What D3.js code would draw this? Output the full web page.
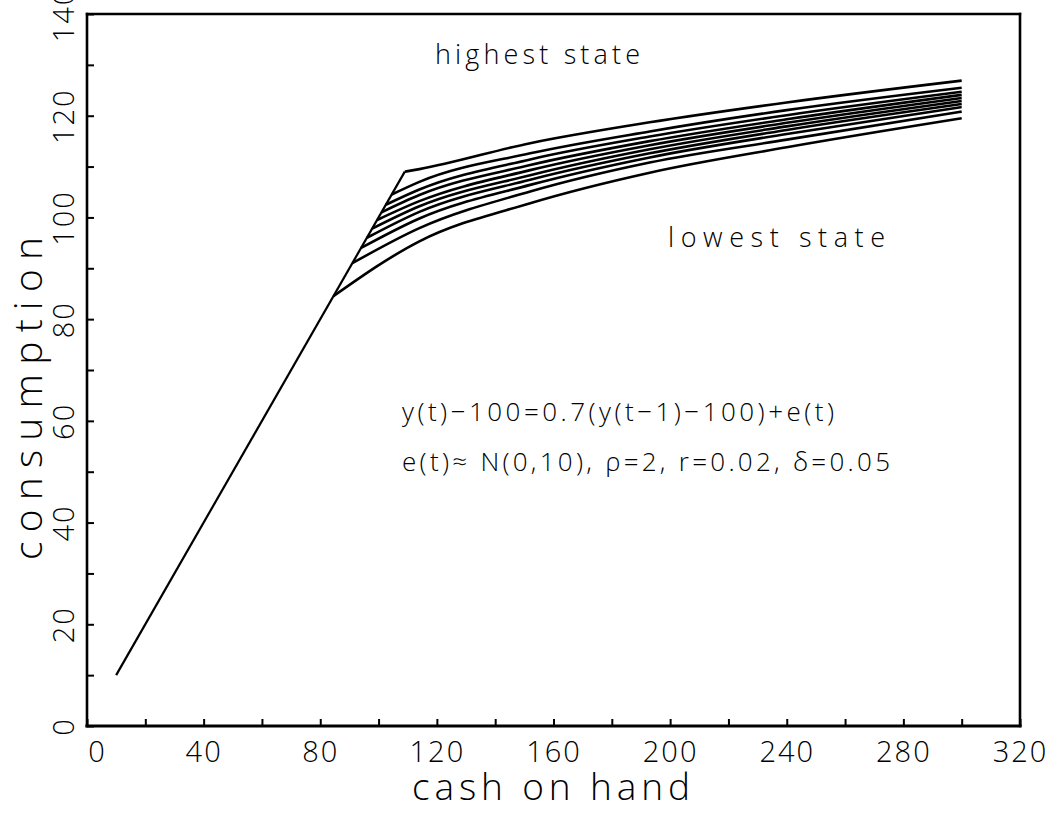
<!DOCTYPE html>
<html>
<head>
<meta charset="utf-8">
<script src="https://cdn.jsdelivr.net/npm/d3@7/dist/d3.min.js"></script>
<style>
  html, body { margin: 0; padding: 0; background: #fff; }
  svg { display: block; }
  text { font-family: "Open Sans", Lato, "DejaVu Sans", sans-serif; font-weight: 300; fill: #000; }
</style>
</head>
<body>
<svg id="chart" width="1052" height="814"></svg>
<script>
// Consumption policy functions for each income state
const cashGrid = [114, 152, 193, 240, 300];
const kinkCash = [109, 104.5, 102.5, 101, 99.5, 97.8, 96, 94, 91, 84.5];
const consumption = [
  [109.5, 114.6, 118.7, 122.6, 126.9],
  [107.0, 112.6, 116.9, 121.1, 125.5],
  [105.5, 111.4, 115.9, 120.1, 124.7],
  [104.4, 110.3, 115.0, 119.3, 124.1],
  [103.2, 109.3, 114.2, 118.6, 123.5],
  [102.2, 108.3, 113.4, 117.9, 122.9],
  [101.1, 107.4, 112.6, 117.2, 122.3],
  [ 99.8, 106.4, 111.8, 116.4, 121.7],
  [ 97.9, 105.1, 110.8, 115.3, 120.8],
  [ 95.3, 102.8, 108.8, 113.8, 119.5]
];
const minCash = 10;                 // constrained segment: consume all cash
const xTicks = d3.range(0, 321, 20);
const xLabels = [0, 40, 80, 120, 160, 200, 240, 280, 320];
const yTicks = d3.range(0, 141, 10);
const yLabels = [0, 20, 40, 60, 80, 100, 120, 140];

const svg = d3.select("#chart");
const L = 87, R = 1020, T = 14, B = 726;
const x = d3.scaleLinear().domain([0, 320]).range([L, R]);
const y = d3.scaleLinear().domain([0, 140]).range([B, T]);

// Axes with inward ticks
const xAxis = d3.axisBottom(x).tickValues(xTicks).tickSizeInner(-7).tickSizeOuter(0)
  .tickFormat(d => xLabels.includes(d) ? d : "");
const gx = svg.append("g").attr("transform", `translate(0,${B})`).call(xAxis);
gx.select(".domain").remove();
gx.selectAll(".tick line").attr("stroke", "#000").attr("stroke-width", 2);
gx.selectAll(".tick text").attr("y", 0).attr("dy", "36").attr("dx", d => d === 0 ? 10 : 0)
  .attr("font-size", 29).attr("letter-spacing", 2)
  .attr("font-family", "'Open Sans', Lato, sans-serif");

const yAxis = d3.axisLeft(y).tickValues(yTicks).tickSizeInner(-7).tickSizeOuter(0)
  .tickFormat(d => yLabels.includes(d) ? d : "");
const gy = svg.append("g").attr("transform", `translate(${L},0)`).call(yAxis);
gy.select(".domain").remove();
gy.selectAll(".tick line").attr("stroke", "#000").attr("stroke-width", 2);
gy.selectAll(".tick text").attr("x", 0).attr("dy", 0)
  .attr("text-anchor", "middle").attr("dominant-baseline", "central")
  .attr("transform", "translate(-25,0) rotate(-90)")
  .attr("font-size", 29).attr("letter-spacing", 2)
  .attr("font-family", "'Open Sans', Lato, sans-serif");

// Frame
const frame = svg.append("g").attr("stroke", "#000").attr("fill", "none").attr("stroke-linecap", "square");
frame.append("line").attr("x1", L).attr("x2", R).attr("y1", B).attr("y2", B).attr("stroke-width", 3.2);
frame.append("line").attr("x1", L).attr("x2", L).attr("y1", T).attr("y2", B).attr("stroke-width", 2.6);
frame.append("line").attr("x1", L).attr("x2", R).attr("y1", T).attr("y2", T).attr("stroke-width", 2.4);
frame.append("line").attr("x1", R).attr("x2", R).attr("y1", T).attr("y2", B).attr("stroke-width", 2.6);

// Constrained segment c = x up to the highest kink
const line = d3.line().x(d => x(d[0])).y(d => y(d[1]));
const topKink = d3.max(kinkCash);
svg.append("path")
  .attr("d", line([[minCash, minCash], [topKink, topKink]]))
  .attr("fill", "none").attr("stroke", "#000").attr("stroke-width", 2.2);

// Unconstrained branches, one per state
const smooth = d3.line().x(d => x(d[0])).y(d => y(d[1])).curve(d3.curveMonotoneX);
svg.append("g").selectAll("path")
  .data(consumption.map((vals, i) => [[kinkCash[i], kinkCash[i]], ...cashGrid.map((c, j) => [c, vals[j]])]))
  .join("path")
  .attr("d", smooth)
  .attr("fill", "none").attr("stroke", "#000").attr("stroke-width", 2.6)
  .attr("stroke-linejoin", "round");

// Labels
svg.append("text").attr("x", 435).attr("y", 64).attr("font-size", 27)
  .attr("textLength", 205).attr("lengthAdjust", "spacing").text("highest state");
svg.append("text").attr("x", 668).attr("y", 247).attr("font-size", 27)
  .attr("textLength", 217).attr("lengthAdjust", "spacing").text("lowest state");
svg.append("text").attr("x", 402).attr("y", 421).attr("font-size", 26)
  .attr("textLength", 432).attr("lengthAdjust", "spacing").text("y(t)−100=0.7(y(t−1)−100)+e(t)");
svg.append("text").attr("x", 402).attr("y", 471).attr("font-size", 26)
  .attr("textLength", 488).attr("lengthAdjust", "spacing").text("e(t)≈ N(0,10), ρ=2, r=0.02, δ=0.05");

// Axis titles
svg.append("text").attr("x", 412).attr("y", 800).attr("font-size", 37)
  .attr("textLength", 278).attr("lengthAdjust", "spacing").text("cash on hand");
svg.append("text").attr("transform", "translate(42,560) rotate(-90)").attr("font-size", 39)
  .attr("textLength", 323).attr("lengthAdjust", "spacing").text("consumption");
</script>
</body>
</html>
